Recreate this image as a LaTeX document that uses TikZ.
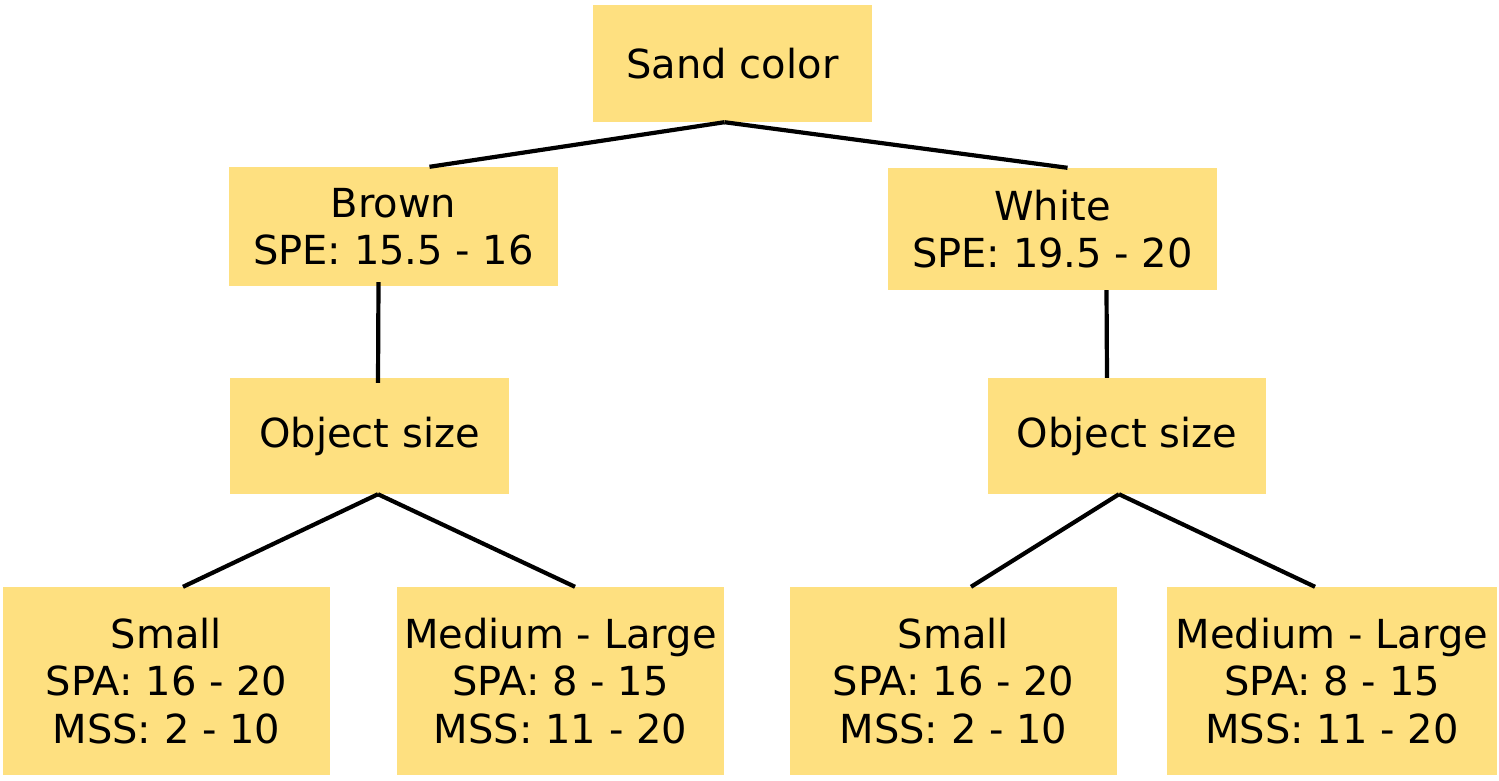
\documentclass[tikz,border=0pt]{standalone}
\usepackage{fontspec}
\setmainfont{DejaVu Sans}
\usetikzlibrary{calc}
\definecolor{boxfill}{RGB}{254,224,128}
\tikzset{
  box/.style={fill=boxfill, draw=none, inner sep=0pt, align=center,
    font=\fontsize{40}{47.5}\selectfont, text=black},
  link/.style={draw=black, line width=4.2pt}
}
\begin{document}
\begin{tikzpicture}[x=1pt,y=-1pt]
\useasboundingbox (0,0) rectangle (1499,780);
\fill[white] (0,0) rectangle (1499,780);
% top
\node[box, minimum width=279pt, minimum height=117pt] (sand) at (732.5,63.5) {Sand color};
% second level
\node[box, minimum width=329pt, minimum height=119pt] (brown) at (393.5,226.5) {Brown\\SPE: 15.5 - 16};
\node[box, minimum width=329pt, minimum height=122pt] (white) at (1052.5,229) {White\\SPE: 19.5 - 20};
% third level
\node[box, minimum width=279pt, minimum height=116pt] (objL) at (369.5,436) {Object size};
\node[box, minimum width=278pt, minimum height=116pt] (objR) at (1127,436) {Object size};
% leaves
\node[box, minimum width=327pt, minimum height=188pt] (smallL) at (166.5,681) {Small\\SPA: 16 - 20\\MSS: 2 - 10};
\node[box, minimum width=327pt, minimum height=188pt] (medL) at (560.5,681) {Medium - Large\\SPA: 8 - 15\\MSS: 11 - 20};
\node[box, minimum width=327pt, minimum height=188pt] (smallR) at (953.5,681) {Small\\SPA: 16 - 20\\MSS: 2 - 10};
\node[box, minimum width=330pt, minimum height=188pt] (medR) at (1332,681) {Medium - Large\\SPA: 8 - 15\\MSS: 11 - 20};
% connectors
\draw[link] ($(sand.south)+(-8,0)$) -- ($(brown.north)+(36,0)$);
\draw[link] ($(sand.south)+(-8,0)$) -- ($(white.north)+(15,0)$);
\draw[link] ($(brown.south)+(-15,-4)$) -- ($(objL.north)+(8.5,5)$);
\draw[link] ($(white.south)+(54,0)$) -- ($(objR.north)+(-20,0)$);
\draw[link] ($(objL.south)+(8.5,0)$) -- ($(smallL.north)+(16.5,0)$);
\draw[link] ($(objL.south)+(8.5,0)$) -- ($(medL.north)+(14.5,0)$);
\draw[link] ($(objR.south)+(-8,0)$) -- ($(smallR.north)+(17.5,0)$);
\draw[link] ($(objR.south)+(-8,0)$) -- ($(medR.north)+(-17,0)$);
\end{tikzpicture}
\end{document}
